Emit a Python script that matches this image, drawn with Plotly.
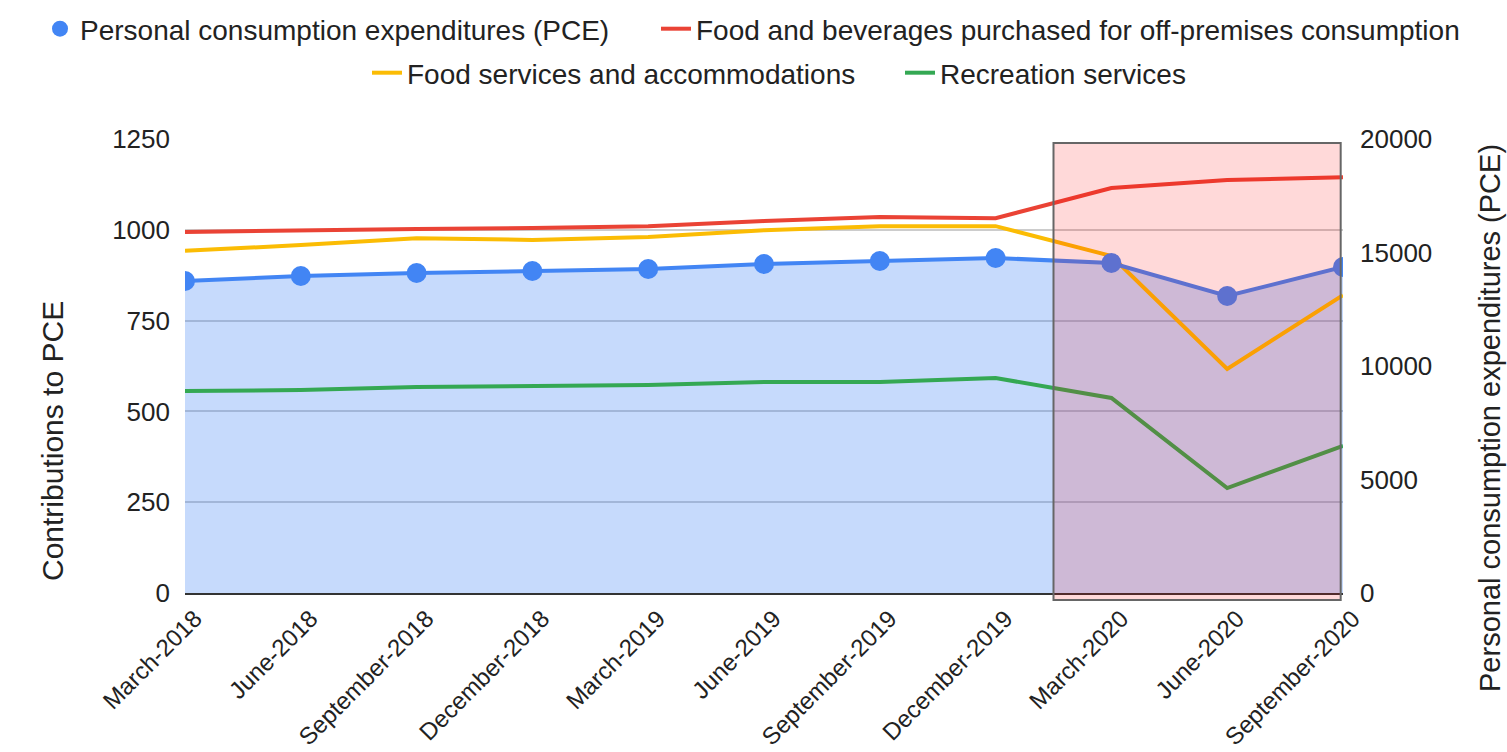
import plotly.graph_objects as go

categories = ["March-2018", "June-2018", "September-2018", "December-2018",
              "March-2019", "June-2019", "September-2019", "December-2019",
              "March-2020", "June-2020", "September-2020"]

pce = [13744, 13964, 14097, 14185, 14273, 14493, 14626, 14758, 14537, 13084, 14361]
food_bev_off = [994, 999, 1002, 1005, 1010, 1024, 1035, 1032, 1115, 1137, 1145]
food_services = [942, 958, 977, 972, 980, 999, 1010, 1010, 928, 617, 820]
recreation = [556, 559, 567, 570, 573, 581, 581, 592, 537, 289, 405]

left_title = "Contributions to PCE"
right_title = "Personal consumption expenditures (PCE)"

FONT = "Liberation Sans, Arial, sans-serif"
TXT = "#222222"

fig = go.Figure()

# PCE area (right-hand scale, drawn first so lines sit above)
fig.add_trace(go.Scatter(
    x=categories, y=pce, mode="lines", fill="tozeroy",
    fillcolor="rgba(66,133,244,0.30)", line=dict(color="rgba(0,0,0,0)", width=0),
    yaxis="y", showlegend=False, hoverinfo="skip"))

# contribution lines (left-hand scale)
fig.add_trace(go.Scatter(
    x=categories, y=food_bev_off, mode="lines", yaxis="y2",
    name="Food and beverages purchased for off-premises consumption",
    line=dict(color="#ea4335", width=4), legend="legend2"))
fig.add_trace(go.Scatter(
    x=categories, y=food_services, mode="lines", yaxis="y2",
    name="Food services and accommodations",
    line=dict(color="#fbbc04", width=4), legend="legend3"))
fig.add_trace(go.Scatter(
    x=categories, y=recreation, mode="lines", yaxis="y2",
    name="Recreation services",
    line=dict(color="#34a853", width=4), legend="legend4"))

# PCE line + markers on top
fig.add_trace(go.Scatter(
    x=categories, y=pce, mode="lines", yaxis="y3",
    name="Personal consumption expenditures (PCE)",
    line=dict(color="#4285f4", width=4), showlegend=False))
fig.add_trace(go.Scatter(
    x=categories, y=pce, mode="markers", yaxis="y3",
    name="Personal consumption expenditures (PCE)",
    marker=dict(color="#4285f4", size=20), legend="legend"))

fig.add_shape(type="rect", xref="x", yref="paper",
              x0=7.5, x1=9.98, y0=-0.0155, y1=0.991,
              fillcolor="rgba(255,0,0,0.15)",
              line=dict(color="#666666", width=2), layer="above")

PL, PW = 185.0, 1158.0
PT, PH = 139.0, 454.0


def lx(px):
    return (px - PL) / PW


def ly(py):
    return 1 + (PT - py) / PH


fig.add_annotation(text=left_title, textangle=-90, xref="paper", yref="paper",
                   x=lx(52), y=ly(441), xanchor="center", yanchor="middle",
                   showarrow=False, font=dict(size=30, color=TXT))
fig.add_annotation(text=right_title, textangle=-90, xref="paper", yref="paper",
                   x=lx(1490), y=ly(418), xanchor="center", yanchor="middle",
                   showarrow=False, font=dict(size=29, color=TXT))

leg_common = dict(orientation="h", xanchor="left", yanchor="middle",
                  font=dict(size=28, color=TXT), bgcolor="rgba(0,0,0,0)",
                  borderwidth=0)

fig.update_layout(
    width=1507, height=752,
    margin=dict(l=185, r=164, t=139, b=159, autoexpand=False),
    paper_bgcolor="white", plot_bgcolor="white",
    font=dict(family=FONT, color=TXT, size=26),
    xaxis=dict(type="category", range=[0, 10], tickangle=-45,
               tickfont=dict(size=24, color=TXT), showgrid=False,
               showline=True, linecolor="#333333", linewidth=2,
               ticks="", zeroline=False, automargin=False,
               ticklabelshift=10),
    yaxis=dict(side="right", range=[0, 20000], dtick=5000, tickformat="d",
               showgrid=False, zeroline=False, tickfont=dict(size=26, color=TXT),
               ticklabelstandoff=16, automargin=False),
    yaxis2=dict(side="left", overlaying="y", range=[0, 1250], dtick=250,
                showgrid=True, gridcolor="#cccccc", gridwidth=2, zeroline=False,
                tickfont=dict(size=26, color=TXT), ticklabelstandoff=14,
                automargin=False),
    yaxis3=dict(overlaying="y", range=[0, 20000], visible=False),
    legend=dict(x=lx(40), y=ly(29), **leg_common),
    legend2=dict(x=lx(656), y=ly(29), **leg_common),
    legend3=dict(x=lx(367), y=ly(73), **leg_common),
    legend4=dict(x=lx(900), y=ly(73), **leg_common),
)

fig.write_html("out.html")
